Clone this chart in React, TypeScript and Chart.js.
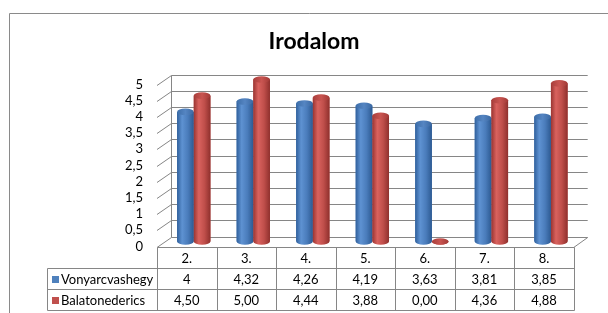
import React, { useEffect, useRef } from 'react';
import { Chart, registerables } from 'chart.js';

Chart.register(...registerables);

// ---- data ----
const titleText = 'Irodalom';
const categories = ['2.', '3.', '4.', '5.', '6.', '7.', '8.'];
const seriesNames = ['Vonyarcvashegy', 'Balatonederics'];
const vonyarcvashegy = [4, 4.32, 4.26, 4.19, 3.63, 3.81, 3.85];
const balatonederics = [4.5, 5.0, 4.44, 3.88, 0.0, 4.36, 4.88];
// number of decimals shown in the data table (null = general format)
const tableDecimals: (number | null)[] = [null, 2];
const yMin = 0;
const yMax = 5;
const yStep = 0.5;

// ---- style ----
const FONT = 'Lato, "Open Sans", sans-serif';
const GRID = '#868686';
const DX = 7; // half depth, horizontal
const DY = 5; // half depth, vertical
const ROW_H = 21;
const LEGEND_W = 110;
const seriesColors = ['#4F81BD', '#C0504D'];
const bodyStops: [number, string][][] = [
  [[0, '#30609c'], [0.3, '#5e92d2'], [0.65, '#4a7cbb'], [1, '#2d5a92']],
  [[0, '#9a3532'], [0.3, '#d9625e'], [0.65, '#bf4e4a'], [1, '#8f302d']],
];
const capStops: [number, string][][] = [
  [[0, '#3d6ea9'], [0.5, '#5585c2'], [1, '#3a68a2']],
  [[0, '#a83e3b'], [0.5, '#c95551'], [1, '#a23a37']],
];

const fmt = (v: number, dec: number | null) =>
  (dec === null ? String(v) : v.toFixed(dec)).replace('.', ',');

const threeDPlugin = {
  id: 'threeD',
  beforeDraw(chart: any) {
    const { ctx } = chart;
    ctx.save();
    ctx.fillStyle = '#ffffff';
    ctx.fillRect(0, 0, chart.width, chart.height);
    ctx.strokeStyle = '#8a8a8a';
    ctx.lineWidth = 1;
    ctx.beginPath();
    ctx.moveTo(9.5, chart.height + 2);
    ctx.lineTo(9.5, 13.5);
    ctx.lineTo(chart.width + 2, 13.5);
    ctx.stroke();
    ctx.fillStyle = '#000';
    ctx.font = `bold 23px ${FONT}`;
    ctx.textAlign = 'center';
    ctx.textBaseline = 'middle';
    ctx.fillText(titleText, 314, 42);
    ctx.restore();
  },
  beforeDatasetsDraw(chart: any) {
    const { ctx, chartArea: ca, scales } = chart;
    const y = scales.y;
    const bl = Math.round(ca.left + DX) + 0.5;
    const br = ca.right + DX;
    const fl = ca.left - DX;
    const fr = ca.right - DX;
    ctx.save();
    ctx.strokeStyle = GRID;
    ctx.lineWidth = 1;
    ctx.beginPath();
    y.ticks.forEach((t: any) => {
      const yy = Math.round(y.getPixelForValue(t.value) - DY) + 0.5;
      ctx.moveTo(fl, yy + 2 * DY);
      ctx.lineTo(bl, yy);
      ctx.lineTo(br, yy);
    });
    const top = Math.round(y.getPixelForValue(yMax) - DY) + 0.5;
    const bot = Math.round(y.getPixelForValue(yMin) - DY) + 0.5;
    ctx.moveTo(bl, top);
    ctx.lineTo(bl, bot);
    ctx.moveTo(br, bot);
    ctx.lineTo(fr, bot + 2 * DY);
    ctx.stroke();
    ctx.restore();
  },
  afterDatasetsDraw(chart: any) {
    const { ctx } = chart;
    ctx.save();
    chart.data.datasets.forEach((_ds: any, di: number) => {
      const meta = chart.getDatasetMeta(di);
      meta.data.forEach((el: any) => {
        const { x, y: top, base, width } = el.getProps(['x', 'y', 'base', 'width'], true);
        const l = x - width / 2;
        const r = x + width / 2;
        const rx = width / 2;
        const ry = width * 0.2;
        const g = ctx.createLinearGradient(l, 0, r, 0);
        bodyStops[di].forEach(([o, c]) => g.addColorStop(o, c));
        ctx.beginPath();
        ctx.moveTo(l, top);
        ctx.lineTo(l, base);
        ctx.ellipse(x, base, rx, ry, 0, Math.PI, 0, true);
        ctx.lineTo(r, top);
        ctx.closePath();
        ctx.fillStyle = g;
        ctx.fill();
        const cg = ctx.createLinearGradient(l, 0, r, 0);
        capStops[di].forEach(([o, c]) => cg.addColorStop(o, c));
        ctx.beginPath();
        ctx.ellipse(x, top, rx, ry, 0, 0, Math.PI * 2);
        ctx.fillStyle = cg;
        ctx.fill();
      });
    });
    ctx.restore();
  },
  afterDraw(chart: any) {
    const { ctx, chartArea: ca, scales } = chart;
    const x = scales.x;
    const y = scales.y;
    const n = categories.length;
    const cw = (ca.right - ca.left) / n;
    const t0 = Math.round(y.getPixelForValue(yMin) + DY) + 0.5;
    const left = Math.round(ca.left - DX) + 0.5;
    const right = Math.round(ca.right - DX) + 0.5;
    const lLeft = Math.round(ca.left - DX - LEGEND_W) + 0.5;
    ctx.save();
    ctx.strokeStyle = GRID;
    ctx.lineWidth = 1;
    ctx.beginPath();
    ctx.moveTo(left, t0);
    ctx.lineTo(right, t0);
    for (let r = 1; r <= 3; r++) {
      ctx.moveTo(lLeft, t0 + r * ROW_H);
      ctx.lineTo(right, t0 + r * ROW_H);
    }
    ctx.moveTo(lLeft, t0 + ROW_H);
    ctx.lineTo(lLeft, t0 + 3 * ROW_H);
    for (let i = 0; i <= n; i++) {
      const xx = i < n
        ? Math.round(x.getPixelForValue(i) - DX - cw / 2) + 0.5
        : right;
      ctx.moveTo(xx, t0);
      ctx.lineTo(xx, t0 + 3 * ROW_H);
    }
    ctx.stroke();

    ctx.fillStyle = '#000';
    ctx.font = `13px ${FONT}`;
    ctx.textBaseline = 'middle';
    ctx.textAlign = 'center';
    categories.forEach((c, i) => {
      ctx.fillText(c, x.getPixelForValue(i) - DX, t0 + ROW_H / 2 + 1);
    });
    const series = [vonyarcvashegy, balatonederics];
    series.forEach((vals, si) => {
      const cy = t0 + ROW_H * (si + 1) + ROW_H / 2 + 1;
      ctx.textAlign = 'center';
      ctx.fillStyle = '#000';
      vals.forEach((v, i) => {
        ctx.fillText(fmt(v, tableDecimals[si]), x.getPixelForValue(i) - DX, cy);
      });
      ctx.fillStyle = seriesColors[si];
      ctx.fillRect(lLeft + 4.5, Math.round(cy - 4.5), 7, 7);
      ctx.fillStyle = '#000';
      ctx.textAlign = 'left';
      ctx.fillText(seriesNames[si], lLeft + 13.5, cy);
    });
    ctx.restore();
  },
};

export default function App() {
  const ref = useRef<HTMLCanvasElement>(null);
  useEffect(() => {
    const chart = new Chart(ref.current as HTMLCanvasElement, {
      type: 'bar',
      data: {
        labels: categories,
        datasets: [
          { label: seriesNames[0], data: vonyarcvashegy, backgroundColor: seriesColors[0], borderWidth: 0 },
          { label: seriesNames[1], data: balatonederics, backgroundColor: seriesColors[1], borderWidth: 0 },
        ],
      },
      options: {
        responsive: false,
        animation: false,
        devicePixelRatio: 1,
        datasets: { bar: { barPercentage: 1, categoryPercentage: 0.56 } },
        layout: { padding: { top: 79.5, bottom: 71.5, left: 0, right: 27.3 } },
        plugins: { legend: { display: false }, tooltip: { enabled: false }, title: { display: false } },
        scales: {
          x: { display: false },
          y: {
            min: yMin,
            max: yMax,
            afterFit(scale: any) { scale.width = 164; },
            grid: { display: false, drawTicks: false },
            border: { display: false },
            ticks: {
              stepSize: yStep,
              autoSkip: false,
              padding: 21,
              labelOffset: DY,
              color: '#000',
              font: { family: FONT, size: 13 },
              callback: (v: any) => String(v).replace('.', ','),
            },
          },
        },
      },
      plugins: [threeDPlugin],
    } as any);
    return () => chart.destroy();
  }, []);
  return (
    <div style={{ position: 'fixed', left: 0, top: 0, width: 608, height: 313 }}>
      <canvas ref={ref} width={608} height={313} style={{ display: 'block' }} />
    </div>
  );
}
